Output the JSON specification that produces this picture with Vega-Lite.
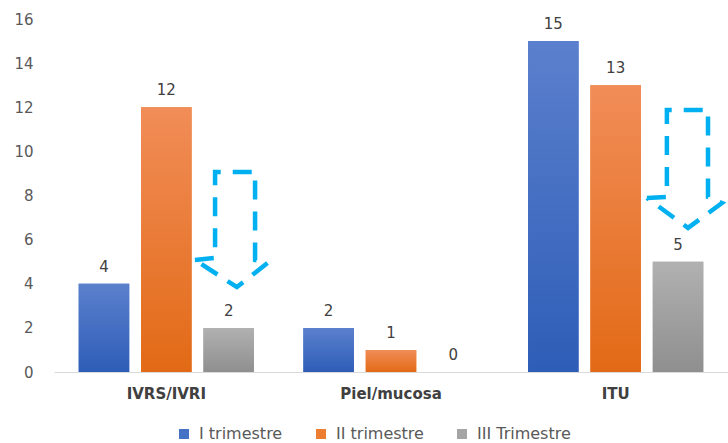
{
  "$schema": "https://vega.github.io/schema/vega-lite/v6.json",
  "width": 674,
  "height": 353,
  "autosize": "none",
  "padding": {"left": 54, "top": 19, "right": 0, "bottom": 71},
  "background": "white",
  "config": {
    "view": {"stroke": null},
    "font": "DejaVu Sans"
  },
  "datasets": {
    "bars": [
      {"category": "IVRS/IVRI", "series": "I trimestre", "value": 4},
      {"category": "IVRS/IVRI", "series": "II trimestre", "value": 12},
      {"category": "IVRS/IVRI", "series": "III Trimestre", "value": 2},
      {"category": "Piel/mucosa", "series": "I trimestre", "value": 2},
      {"category": "Piel/mucosa", "series": "II trimestre", "value": 1},
      {"category": "Piel/mucosa", "series": "III Trimestre", "value": 0},
      {"category": "ITU", "series": "I trimestre", "value": 15},
      {"category": "ITU", "series": "II trimestre", "value": 13},
      {"category": "ITU", "series": "III Trimestre", "value": 5}
    ],
    "arrows": [
      {"arrow": "a", "order": 1, "x": 0.627, "y": 5.08},
      {"arrow": "a", "order": 2, "x": 0.717, "y": 5.17},
      {"arrow": "a", "order": 3, "x": 0.717, "y": 9.07},
      {"arrow": "a", "order": 4, "x": 0.895, "y": 9.07},
      {"arrow": "a", "order": 5, "x": 0.895, "y": 5.08},
      {"arrow": "a", "order": 6, "x": 0.952, "y": 4.95},
      {"arrow": "a", "order": 7, "x": 0.814, "y": 3.85},
      {"arrow": "a", "order": 8, "x": 0.627, "y": 5.08},
      {"arrow": "b", "order": 1, "x": 2.639, "y": 7.89},
      {"arrow": "b", "order": 2, "x": 2.728, "y": 7.93},
      {"arrow": "b", "order": 3, "x": 2.728, "y": 11.88},
      {"arrow": "b", "order": 4, "x": 2.911, "y": 11.88},
      {"arrow": "b", "order": 5, "x": 2.911, "y": 7.93},
      {"arrow": "b", "order": 6, "x": 2.973, "y": 7.66},
      {"arrow": "b", "order": 7, "x": 2.822, "y": 6.53},
      {"arrow": "b", "order": 8, "x": 2.639, "y": 7.89}
    ]
  },
  "layer": [
    {
      "data": {"name": "bars"},
      "encoding": {
        "x": {
          "field": "category",
          "type": "nominal",
          "sort": ["IVRS/IVRI", "Piel/mucosa", "ITU"],
          "scale": {"domain": ["IVRS/IVRI", "Piel/mucosa", "ITU"], "paddingInner": 0.22, "paddingOuter": 0.11},
          "axis": {
            "title": null,
            "labelAngle": 0,
            "labelFont": "DejaVu Sans",
            "labelFontSize": 15,
            "labelFontWeight": "bold",
            "labelColor": "#404040",
            "labelPadding": 14,
            "ticks": false,
            "domainColor": "#d9d9d9",
            "domainWidth": 1
          }
        },
        "xOffset": {
          "field": "series",
          "type": "nominal",
          "sort": ["I trimestre", "II trimestre", "III Trimestre"],
          "scale": {"domain": ["I trimestre", "II trimestre", "III Trimestre"], "paddingInner": 0.19}
        },
        "y": {
          "field": "value",
          "type": "quantitative",
          "scale": {"domain": [0, 16]},
          "axis": {
            "title": null,
            "values": [0, 2, 4, 6, 8, 10, 12, 14, 16],
            "grid": false,
            "domain": false,
            "ticks": false,
            "labelFont": "DejaVu Sans",
            "labelFontSize": 15,
            "labelColor": "#595959",
            "labelPadding": 21
          }
        }
      },
      "layer": [
        {
          "mark": {"type": "bar"},
          "encoding": {
            "color": {
              "field": "series",
              "type": "nominal",
              "sort": ["I trimestre", "II trimestre", "III Trimestre"],
              "scale": {
                "domain": ["I trimestre", "II trimestre", "III Trimestre"],
                "range": ["#4472c4", "#ed7d31", "#a5a5a5"]
              },
              "legend": {
                "title": null,
                "orient": "none",
                "legendX": 122,
                "legendY": 407,
                "direction": "horizontal",
                "symbolType": "square",
                "symbolSize": 100,
                "symbolStrokeWidth": 0,
                "labelFont": "DejaVu Sans",
                "labelFontSize": 16,
                "labelColor": "#595959",
                "labelOffset": 7,
                "columnPadding": 30
              }
            }
          }
        },
        {
          "transform": [{"filter": "datum.series === 'I trimestre'"}],
          "mark": {"type": "bar", "color": {"gradient": "linear", "x1": 0, "y1": 0, "x2": 0, "y2": 1, "stops": [{"offset": 0, "color": "#5b80cd"}, {"offset": 1, "color": "#2e5db7"}]}}
        },
        {
          "transform": [{"filter": "datum.series === 'II trimestre'"}],
          "mark": {"type": "bar", "color": {"gradient": "linear", "x1": 0, "y1": 0, "x2": 0, "y2": 1, "stops": [{"offset": 0, "color": "#f18d58"}, {"offset": 1, "color": "#e26a16"}]}}
        },
        {
          "transform": [{"filter": "datum.series === 'III Trimestre'"}],
          "mark": {"type": "bar", "color": {"gradient": "linear", "x1": 0, "y1": 0, "x2": 0, "y2": 1, "stops": [{"offset": 0, "color": "#b1b1b1"}, {"offset": 1, "color": "#8f8f8f"}]}}
        },
        {
          "mark": {"type": "text", "baseline": "alphabetic", "dy": -12, "fontSize": 15, "color": "#404040", "font": "DejaVu Sans"},
          "encoding": {"text": {"field": "value", "type": "quantitative"}}
        }
      ]
    },
    {
      "data": {"name": "arrows"},
      "mark": {"type": "line", "color": "#00b0f0", "strokeWidth": 4.5, "strokeDash": [19, 12], "strokeJoin": "miter"},
      "encoding": {
        "x": {"field": "x", "type": "quantitative", "scale": {"domain": [0, 3]}, "axis": null},
        "y": {"field": "y", "type": "quantitative", "scale": {"domain": [0, 16]}},
        "detail": {"field": "arrow"},
        "order": {"field": "order"}
      }
    }
  ],
  "resolve": {"scale": {"x": "independent"}, "axis": {"x": "independent"}}
}
